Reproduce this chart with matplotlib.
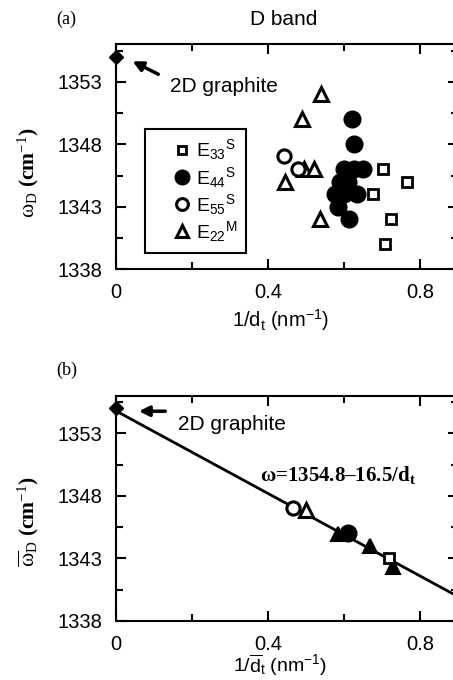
import matplotlib
matplotlib.use("Agg")
import matplotlib.pyplot as plt
from matplotlib.lines import Line2D

plt.rcParams['font.family'] = ['Liberation Sans', 'DejaVu Sans']
plt.rcParams['mathtext.fontset'] = 'custom'
plt.rcParams['mathtext.rm'] = 'Liberation Sans'
plt.rcParams['mathtext.bf'] = 'Liberation Serif:bold'
plt.rcParams['mathtext.default'] = 'regular'

# ---- data (a): D band frequency vs 1/dt ----
graphite_x = [0.0]
graphite_y = [1355.0]

e33_x = [0.702, 0.765, 0.677, 0.723, 0.708]
e33_y = [1346.0, 1345.0, 1344.0, 1342.0, 1340.0]

e44_x = [0.620, 0.625, 0.600, 0.625, 0.650, 0.590, 0.610, 0.575, 0.600, 0.635, 0.585, 0.612]
e44_y = [1350.0, 1348.0, 1346.0, 1346.0, 1346.0, 1345.0, 1345.0, 1344.0, 1344.0, 1344.0, 1343.0, 1342.0]

e55_x = [0.443, 0.478]
e55_y = [1347.1, 1346.0]

e22_x = [0.539, 0.489, 0.445, 0.495, 0.522, 0.537]
e22_y = [1352.0, 1350.0, 1345.0, 1346.0, 1346.0, 1342.0]

# ---- data (b): averaged values + fit ----
avg_e55_x, avg_e55_y = [0.467], [1347.0]
avg_e22m_x, avg_e22m_y = [0.500], [1346.9]
avg_e44_x, avg_e44_y = [0.611], [1345.0]
avg_e33_x, avg_e33_y = [0.719], [1343.0]
avg_e22s_x = [0.585, 0.668, 0.730]
avg_e22s_y = [1344.95, 1344.0, 1342.3]

fit_a, fit_b = 1354.8, -16.5
fit_x = [0.0, 0.95]

fig = plt.figure(figsize=(4.53, 6.8), dpi=100)
ax1 = fig.add_axes([0.2561, 0.604, 0.755, 0.3309])
ax2 = fig.add_axes([0.2561, 0.0868, 0.755, 0.3309])

sq = dict(marker='s', ms=7, mfc='white', mec='black', mew=2, ls='none')
fc = dict(marker='o', ms=12, mfc='black', mec='black', mew=1, ls='none')
oc = dict(marker='o', ms=9.5, mfc='white', mec='black', mew=2.2, ls='none')
ot = dict(marker='^', ms=9.5, mfc='white', mec='black', mew=2.2, ls='none')
ft = dict(marker='^', ms=10.5, mfc='black', mec='black', mew=1.5, ls='none')
dm = dict(marker='D', ms=7, mfc='black', mec='black', mew=1, ls='none')

for ax in (ax1, ax2):
    ax.set_xlim(0, 0.9)
    ax.set_ylim(1338, 1356)
    ax.set_xticks([0, 0.4, 0.8])
    ax.set_xticklabels(['0', '0.4', '0.8'])
    ax.set_xticks([0.2, 0.6], minor=True)
    ax.set_yticks([1338, 1343, 1348, 1353])
    ax.set_yticks([1340.5, 1345.5, 1350.5, 1355.5], minor=True)
    ax.tick_params(which='both', direction='in', top=True, right=True,
                   width=1.5, labelsize=14.5, pad=10)
    ax.tick_params(which='major', length=7)
    ax.tick_params(which='minor', length=5)
    for s in ax.spines.values():
        s.set_linewidth(1.5)
    ax.plot(graphite_x, graphite_y, clip_on=False, zorder=5, **dm)

# panel (a)
ax1.plot(e22_x, e22_y, **ot)
ax1.plot(e55_x, e55_y, **oc)
ax1.plot(e44_x, e44_y, **fc)
ax1.plot(e33_x, e33_y, **sq)

ax1.annotate('', xy=(0.037, 1354.74), xytext=(0.118, 1353.5),
             arrowprops=dict(arrowstyle='-|>', lw=2.5, color='black', mutation_scale=15))
ax1.text(0.143, 1352.6, '2D graphite', fontsize=15, va='center')

# legend handles (slightly smaller than the data marks, as in the original)
handles = [Line2D([], [], marker='s', ms=6, mfc='white', mec='black', mew=2, ls='none'),
           Line2D([], [], marker='o', ms=10.5, mfc='black', mec='black', mew=1, ls='none'),
           Line2D([], [], marker='o', ms=8.5, mfc='white', mec='black', mew=2.2, ls='none'),
           Line2D([], [], marker='^', ms=9, mfc='white', mec='black', mew=2.2, ls='none')]
labels = [r'E$_{33}$$^{S}$', r'E$_{44}$$^{S}$', r'E$_{55}$$^{S}$', r'E$_{22}$$^{M}$']
leg = ax1.legend(handles, labels, loc='upper left', bbox_to_anchor=(0.085, 0.625),
                 borderaxespad=0, fontsize=14, handlelength=2.9, handletextpad=-0.75,
                 labelspacing=0.12, borderpad=0.45, fancybox=False, framealpha=1,
                 edgecolor='black')
leg.get_frame().set_linewidth(1.5)

ax1.set_xlabel(r'1/d$_t$ (nm$^{-1}$)', fontsize=14.5)
ax1.xaxis.set_label_coords(0.48, -0.17)
ax1.set_ylabel(r'ω$_{D}$ $\mathbf{(cm}$$^{-1}$$\mathbf{)}$', fontsize=15.5,
               family=['Liberation Serif'], va='center')
ax1.yaxis.set_label_coords(-0.257, 0.43)

# panel (b)
ax2.plot(fit_x, [fit_a + fit_b * v for v in fit_x], color='black', lw=2, zorder=2)
ax2.plot(avg_e55_x, avg_e55_y, **oc)
ax2.plot(avg_e22m_x, avg_e22m_y, **ot)
ax2.plot(avg_e22s_x, avg_e22s_y, **ft)
ax2.plot(avg_e44_x, avg_e44_y, **fc)
ax2.plot(avg_e33_x, avg_e33_y, **sq)

ax2.annotate('', xy=(0.053, 1354.78), xytext=(0.137, 1354.78),
             arrowprops=dict(arrowstyle='-|>', lw=2.5, color='black', mutation_scale=15))
ax2.text(0.163, 1353.7, '2D graphite', fontsize=15, va='center')
ax2.text(0.379, 1349.66, r'ω=1354.8–16.5/d$_t$', fontsize=15, fontweight='bold',
         family=['Liberation Serif'], va='center')

ax2.set_xlabel(r'1/$\overline{d}_t$ (nm$^{-1}$)', fontsize=14)
ax2.xaxis.set_label_coords(0.48, -0.138)
ax2.set_ylabel(r'$\overline{ω}_{D}$ $\mathbf{(cm}$$^{-1}$$\mathbf{)}$', fontsize=15.5,
               family=['Liberation Serif'], va='center')
ax2.yaxis.set_label_coords(-0.257, 0.44)

fig.text(0.627, 0.971, 'D band', fontsize=15, ha='center', va='center')
fig.text(0.147, 0.972, '(a)', fontsize=13, family=['Liberation Serif'], ha='center', va='center')
fig.text(0.147, 0.456, '(b)', fontsize=13, family=['Liberation Serif'], ha='center', va='center')

fig.savefig('out.png', dpi=100)
